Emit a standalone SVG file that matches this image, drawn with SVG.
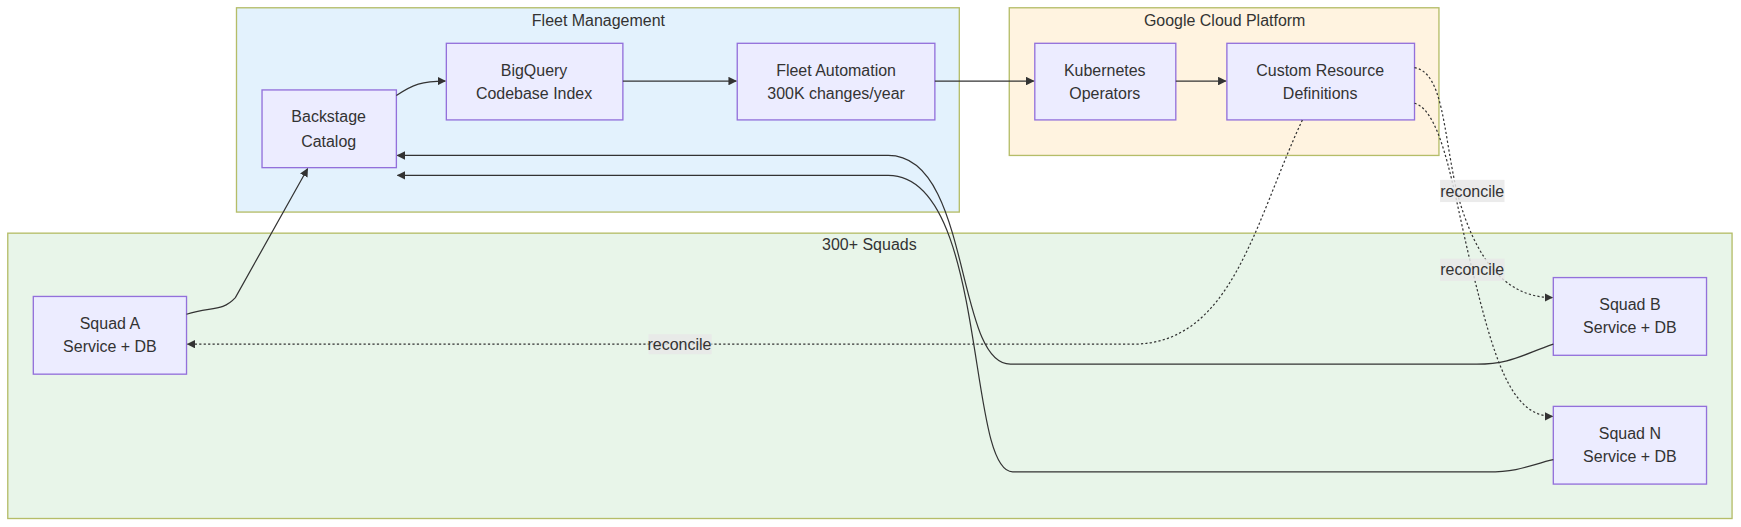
<svg xmlns="http://www.w3.org/2000/svg" width="1741" height="527" viewBox="0 0 1741 527">
<style>
.cl{stroke:#b5bd68;stroke-width:1.2}
.n rect{fill:#ececff;stroke:#9370db;stroke-width:1.2}
text{font-family:"Liberation Sans",Arial,sans-serif;font-size:14.4px;fill:#333;text-anchor:middle}
.e{fill:none;stroke:#333;stroke-width:1.1}
.d{stroke-dasharray:2,2}
.lb{fill:#e8e8e8;opacity:0.85}
</style>
<defs><marker id="a" viewBox="0 0 10 10" refX="9" refY="5" markerWidth="7" markerHeight="7" orient="auto"><path d="M0,0L10,5L0,10z" fill="#333"/></marker></defs>
<rect width="1741" height="527" fill="#fff"/>
<g transform="scale(1.1103)">
<g id="fleet"><rect class="cl" x="213" y="7" width="651" height="184" fill="#e3f2fd"/><text x="539" y="23">Fleet Management</text></g>
<g id="gcp"><rect class="cl" x="909" y="7" width="387" height="133" fill="#fff3e0"/><text x="1103" y="23">Google Cloud Platform</text></g>
<g id="squads"><rect class="cl" x="7" y="210" width="1553" height="257" fill="#e8f5e9"/><text x="783" y="225">300+ Squads</text></g>
<g id="backstage" class="n"><rect x="236" y="81" width="121" height="70"/><text x="296" y="110">Backstage</text><text x="296" y="132">Catalog</text></g>
<g id="bigquery" class="n"><rect x="402" y="39" width="159" height="69"/><text x="481" y="68">BigQuery</text><text x="481" y="89">Codebase Index</text></g>
<g id="automation" class="n"><rect x="664" y="39" width="178" height="69"/><text x="753" y="68">Fleet Automation</text><text x="753" y="89">300K changes/year</text></g>
<g id="k8s" class="n"><rect x="932" y="39" width="127" height="69"/><text x="995" y="68">Kubernetes</text><text x="995" y="89">Operators</text></g>
<g id="crd" class="n"><rect x="1105" y="39" width="169" height="69"/><text x="1189" y="68">Custom Resource</text><text x="1189" y="89">Definitions</text></g>
<g id="squadA" class="n"><rect x="30" y="267" width="138" height="70"/><text x="99" y="296">Squad A</text><text x="99" y="317">Service + DB</text></g>
<g id="squadB" class="n"><rect x="1399" y="250" width="138" height="70"/><text x="1468" y="279">Squad B</text><text x="1468" y="300">Service + DB</text></g>
<g id="squadN" class="n"><rect x="1399" y="366" width="138" height="70"/><text x="1468" y="395">Squad N</text><text x="1468" y="416">Service + DB</text></g>
<g id="edges">
<path class="e" marker-end="url(#a)" d="M357,86C372,76 380,73 401,73"/>
<path class="e" marker-end="url(#a)" d="M561,73H663"/>
<path class="e" marker-end="url(#a)" d="M842,73H931"/>
<path class="e" marker-end="url(#a)" d="M1059,73H1104"/>
<path class="e" marker-end="url(#a)" d="M168,283C190,276 200,281 212,268L277,152"/>
<path class="e d" marker-end="url(#a)" d="M1173,108C1130,200 1110,310 1020,310H169"/>
<path class="e d" marker-end="url(#a)" d="M1274,61C1300,65 1300,120 1312,172C1330,240 1360,268 1398,268"/>
<path class="e d" marker-end="url(#a)" d="M1274,93C1300,100 1310,180 1326,243C1345,320 1360,375 1398,375"/>
<path class="e" marker-end="url(#a)" d="M1399,310C1370,320 1360,328 1330,328H910C860,328 875,140 800,140H358"/>
<path class="e" marker-end="url(#a)" d="M1399,414C1380,418 1370,425 1340,425H912C870,425 890,158 800,158H358"/>
<rect class="lb" x="584" y="301" width="57" height="18"/><text x="612" y="315">reconcile</text>
<rect class="lb" x="1297" y="162" width="58" height="20"/><text x="1326" y="177">reconcile</text>
<rect class="lb" x="1297" y="233" width="58" height="20"/><text x="1326" y="248">reconcile</text>
</g>
</g>
</svg>
